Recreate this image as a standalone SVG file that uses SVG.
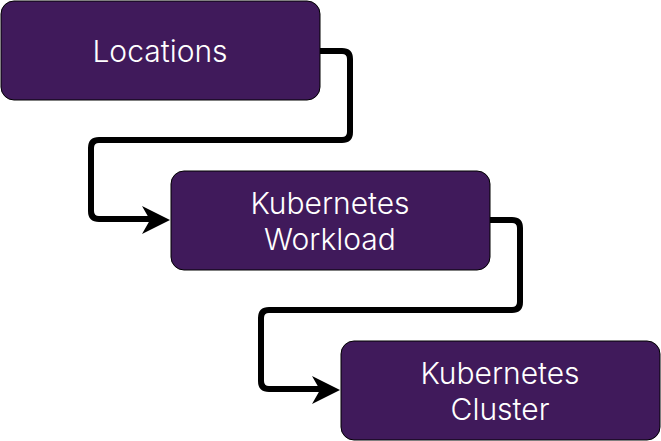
<svg xmlns="http://www.w3.org/2000/svg" width="661" height="441" viewBox="0 0 661 441">
<style>
.box{fill:#401a5b;stroke:#000;stroke-width:1}
.lbl{fill:#fff;font-family:Inter,"Noto Sans",sans-serif;font-size:30px;font-weight:300;text-anchor:middle}
.edge{fill:none;stroke:#000;stroke-width:6;stroke-linejoin:round}
</style>
<rect width="661" height="441" fill="#fff"/>
<g id="edges">
<path class="edge" d="M320,51 H342 Q350,51 350,59 V132 Q350,140 342,140 H99 Q91,140 91,148 V211 Q91,219 99,219 H150" />
<path d="M170,220 L142,206 L150,220 L142,234 Z" fill="#000"/>
<path class="edge" d="M490,220 H512 Q520,220 520,228 V302 Q520,310 512,310 H269 Q261,310 261,318 V381 Q261,389 269,389 H320" />
<path d="M340,390 L312,376 L320,390 L312,404 Z" fill="#000"/>
</g>
<g id="locations">
<rect class="box" x="1" y="1" width="319" height="99" rx="13"/>
<text class="lbl" x="160" y="62">Locations</text>
</g>
<g id="workload">
<rect class="box" x="171" y="171" width="319" height="99" rx="13"/>
<text class="lbl" x="330" y="214">Kubernetes</text>
<text class="lbl" x="330" y="250">Workload</text>
</g>
<g id="cluster">
<rect class="box" x="341" y="341" width="319" height="99" rx="13"/>
<text class="lbl" x="500" y="384">Kubernetes</text>
<text class="lbl" x="500" y="420">Cluster</text>
</g>
</svg>
